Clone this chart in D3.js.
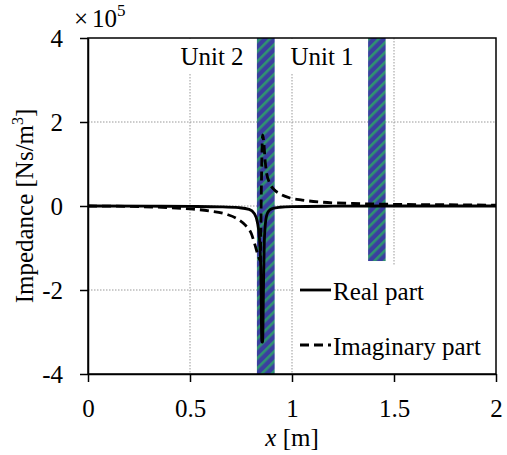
<!DOCTYPE html>
<html><head><meta charset="utf-8">
<script src="https://cdn.jsdelivr.net/npm/d3@7"></script>
</head><body style="margin:0;background:#fff">
<script>
// Data (values in 1e5 Ns/m^3)
const realX = [0, 0.3, 0.5, 0.65, 0.74, 0.79, 0.815, 0.83, 0.84, 0.847, 0.852, 0.856, 0.86, 0.864, 0.869, 0.876, 0.888, 0.905, 0.94, 1.0, 1.2, 1.5, 2.0];
const realY = [0, -0.005, -0.01, -0.02, -0.04, -0.08, -0.18, -0.38, -0.75, -1.5, -3.24, -3.24, -2.0, -0.9, -0.45, -0.22, -0.11, -0.06, -0.03, -0.015, -0.005, 0, 0];
const imagX = [0, 0.2, 0.4, 0.5, 0.6, 0.68, 0.73, 0.77, 0.8, 0.82, 0.835, 0.845, 0.85, 0.856, 0.862, 0.868, 0.875, 0.89, 0.91, 0.94, 0.99, 1.05, 1.15, 1.3, 1.5, 1.75, 2.0];
const imagY = [0, -0.01, -0.04, -0.07, -0.12, -0.2, -0.3, -0.45, -0.65, -0.95, -1.2, -1.3, 0.5, 1.69, 1.5, 1.1, 0.8, 0.55, 0.4, 0.29, 0.19, 0.14, 0.09, 0.06, 0.04, 0.03, 0.02];
const units = ["Unit 2", "Unit 1"];
const unitX0 = [0.828, 1.373];
const unitX1 = [0.915, 1.459];
const unitBottom = [-4, -1.31];
const unitLabelX = [0.608, 1.147];
const xTicks = [0, 0.5, 1, 1.5, 2];
const xTickLabels = ["0", "0.5", "1", "1.5", "2"];
const yTicks = [-4, -2, 0, 2, 4];
const yTickLabels = ["-4", "-2", "0", "2", "4"];
const legendLabels = ["Real part", "Imaginary part"];

const FONT = "Liberation Serif";
const FS = 25;
const W = 507, H = 455;
const m = {l: 88, r: 11, t: 38, b: 81};
const svg = d3.select("body").append("svg").attr("width", W).attr("height", H)
  .attr("font-family", FONT).style("display", "block");
const x = d3.scaleLinear().domain([0, 2]).range([m.l, W - m.r]);
const y = d3.scaleLinear().domain([-4, 4]).range([H - m.b, m.t]);

const defs = svg.append("defs");
const pat = defs.append("pattern").attr("id", "hatch").attr("patternUnits", "userSpaceOnUse")
  .attr("width", 7).attr("height", 7).attr("patternTransform", "rotate(45)");
pat.append("rect").attr("width", 7).attr("height", 7).attr("fill", "#3b3f9f");
pat.append("rect").attr("width", 2.6).attr("height", 7).attr("fill", "#2f9470");

const g = svg.append("g");
// grid
g.selectAll(".gx").data([0.5, 1, 1.5]).join("line")
  .attr("x1", d => x(d)).attr("x2", d => x(d)).attr("y1", y(4)).attr("y2", y(-4))
  .attr("stroke", "#999").attr("stroke-width", 1).attr("stroke-dasharray", "1.5,1.5");
g.selectAll(".gy").data([-2, 0, 2]).join("line")
  .attr("x1", x(0)).attr("x2", x(2)).attr("y1", d => y(d)).attr("y2", d => y(d))
  .attr("stroke", "#999").attr("stroke-width", 1).attr("stroke-dasharray", "1.5,1.5");

// unit labels with white backgrounds
const lab = g.selectAll(".ulab").data(units).join("g");
lab.append("rect").attr("x", (d, i) => x(unitLabelX[i]) - 36).attr("y", y(4) + 1)
  .attr("width", 72).attr("height", 34).attr("fill", "#fff");
lab.append("text").attr("x", (d, i) => x(unitLabelX[i])).attr("y", 65)
  .attr("text-anchor", "middle").text(d => d);

// legend background
g.append("rect").attr("x", 294).attr("y", 265).attr("width", 201).attr("height", 108).attr("fill", "#fff");

// bars
g.selectAll(".bar").data(units).join("rect")
  .attr("x", (d, i) => x(unitX0[i])).attr("width", (d, i) => x(unitX1[i]) - x(unitX0[i]))
  .attr("y", y(4)).attr("height", (d, i) => y(unitBottom[i]) - y(4))
  .attr("fill", "url(#hatch)");

// lines
const line = d3.line().x(d => x(d[0])).y(d => y(d[1])).curve(d3.curveMonotoneX);
g.append("path").datum(realX.map((v, i) => [v, realY[i]])).attr("d", line)
  .attr("fill", "none").attr("stroke", "#000").attr("stroke-width", 2.8);
g.append("path").datum(imagX.map((v, i) => [v, imagY[i]])).attr("d", line)
  .attr("fill", "none").attr("stroke", "#000").attr("stroke-width", 2.8).attr("stroke-dasharray", "9,5");

// frame
svg.append("rect").attr("x", x(0)).attr("y", y(4)).attr("width", x(2) - x(0)).attr("height", y(-4) - y(4))
  .attr("fill", "none").attr("stroke", "#000").attr("stroke-width", 1.5);

// axes
const xa = svg.append("g").attr("transform", `translate(0,${y(-4)})`)
  .call(d3.axisBottom(x).tickValues(xTicks).tickFormat((d, i) => xTickLabels[i]).tickSize(8).tickSizeOuter(0));
const ya = svg.append("g").attr("transform", `translate(${x(0)},0)`)
  .call(d3.axisLeft(y).tickValues(yTicks).tickFormat((d, i) => yTickLabels[i]).tickSize(8).tickSizeOuter(0));
[xa, ya].forEach(a => {
  a.attr("font-family", FONT).attr("font-size", FS);
  a.select(".domain").attr("stroke", "#000").attr("stroke-width", 1.5);
  a.selectAll(".tick line").attr("stroke", "#000").attr("stroke-width", 1.5);
});
xa.selectAll("text").attr("dy", "0").attr("y", 43);
ya.selectAll("text").attr("x", -25).attr("dy", "0.34em");

// legend
const leg = svg.append("g");
legendLabels.forEach((t, i) => {
  const ly = 290 + i * 55;
  leg.append("line").attr("x1", 300).attr("x2", 331).attr("y1", ly).attr("y2", ly)
    .attr("stroke", "#000").attr("stroke-width", 2.8).attr("stroke-dasharray", i ? "9,5" : null);
  leg.append("text").attr("x", 333).attr("y", ly + 10).text(t);
});

// axis titles
svg.append("text").attr("x", 292).attr("y", 446).attr("text-anchor", "middle")
  .html('<tspan font-style="italic">x</tspan> [m]');
svg.append("text").attr("transform", "translate(33,206) rotate(-90)").attr("text-anchor", "middle")
  .html('Impedance [Ns/m<tspan dy="-10" font-size="16">3</tspan><tspan dy="10">]</tspan>');
svg.append("text").attr("x", 74).attr("y", 27)
  .html('×<tspan dx="4">10</tspan><tspan dy="-11" font-size="17">5</tspan>');

svg.selectAll("text").attr("font-family", FONT).attr("fill", "#000").attr("font-size", FS);
</script>
</body></html>
